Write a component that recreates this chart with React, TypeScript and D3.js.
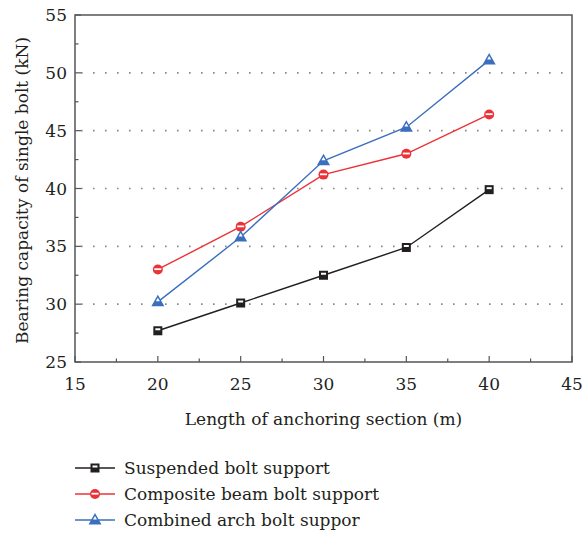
import React from "react";
import * as d3 from "d3";

const lengths = [20, 25, 30, 35, 40];
const suspended = [27.7, 30.1, 32.5, 34.9, 39.9];
const composite = [33.0, 36.7, 41.2, 43.0, 46.4];
const combined = [30.2, 35.8, 42.4, 45.3, 51.1];
const xTicks = [15, 20, 25, 30, 35, 40, 45];
const yTicks = [25, 30, 35, 40, 45, 50, 55];
const seriesNames = ["Suspended bolt support", "Composite beam bolt support", "Combined arch bolt suppor"];

const W = 583, H = 536;
const margin = { top: 15, right: 11, bottom: 174, left: 75 };
const font = "DejaVu Serif";
const axisColor = "#555";

function Marker({ kind, x, y, color }: { kind: string; x: number; y: number; color: string }) {
  if (kind === "square") {
    return (
      <g>
        <rect x={x - 4.5} y={y - 4.5} width={9} height={9} fill={color} />
        <rect x={x - 2.5} y={y - 2.5} width={5} height={2} fill="#fff" />
      </g>
    );
  }
  if (kind === "circle") {
    return (
      <g>
        <circle cx={x} cy={y} r={5} fill={color} />
        <rect x={x - 3.5} y={y - 1.2} width={7} height={1.8} fill="#fff" />
      </g>
    );
  }
  return (
    <g>
      <path d={`M${x},${y - 7}L${x + 6.5},${y + 4.5}L${x - 6.5},${y + 4.5}Z`} fill={color} />
      <path d={`M${x},${y - 4}L${x + 2},${y - 0.6}L${x - 2},${y - 0.6}Z`} fill="#fff" />
    </g>
  );
}

export default function App() {
  const iw = W - margin.left - margin.right;
  const ih = H - margin.top - margin.bottom;
  const x = d3.scaleLinear().domain([15, 45]).range([margin.left, margin.left + iw]);
  const y = d3.scaleLinear().domain([25, 55]).range([margin.top + ih, margin.top]);
  const line = d3.line<[number, number]>().x(d => x(d[0])).y(d => y(d[1]));

  const series = [
    { name: seriesNames[0], values: suspended, color: "#231f20", kind: "square" },
    { name: seriesNames[1], values: composite, color: "#ec3237", kind: "circle" },
    { name: seriesNames[2], values: combined, color: "#3b6fbe", kind: "triangle" },
  ];

  const minorX = d3.range(17.5, 45, 5);
  const minorY = d3.range(27.5, 55, 5);
  const bottom = margin.top + ih;
  const right = margin.left + iw;
  const textStyle = { fontFamily: font };

  return (
    <svg width={W} height={H} style={{ position: "absolute", left: 0, top: 0 }}>
      <rect width={W} height={H} fill="#fff" />
      {/* grid */}
      {yTicks.slice(1, -1).map(t => (
        <line key={t} x1={margin.left + 6} x2={right} y1={y(t)} y2={y(t)}
          stroke="#888" strokeWidth={1.6} strokeDasharray="1.6,10.4" />
      ))}
      {/* ticks */}
      {xTicks.map(t => (
        <line key={"xt" + t} x1={x(t)} x2={x(t)} y1={bottom} y2={bottom - 6} stroke={axisColor} strokeWidth={1.2} />
      ))}
      {minorX.map(t => (
        <line key={"xm" + t} x1={x(t)} x2={x(t)} y1={bottom} y2={bottom - 3.5} stroke={axisColor} strokeWidth={1.2} />
      ))}
      {yTicks.map(t => (
        <line key={"yt" + t} x1={margin.left} x2={margin.left + 6} y1={y(t)} y2={y(t)} stroke={axisColor} strokeWidth={1.2} />
      ))}
      {minorY.map(t => (
        <line key={"ym" + t} x1={margin.left} x2={margin.left + 3.5} y1={y(t)} y2={y(t)} stroke={axisColor} strokeWidth={1.2} />
      ))}
      <rect x={margin.left} y={margin.top} width={iw} height={ih} fill="none" stroke={axisColor} strokeWidth={1.5} />
      {/* tick labels */}
      {xTicks.map(t => (
        <text key={"xl" + t} x={x(t)} y={bottom + 28} textAnchor="middle" style={textStyle} fontSize={17} fill="#231f20">{t}</text>
      ))}
      {yTicks.map(t => (
        <text key={"yl" + t} x={margin.left - 8} y={y(t) + 6} textAnchor="end" style={textStyle} fontSize={17} fill="#231f20">{t}</text>
      ))}
      <text x={(margin.left + right) / 2} y={bottom + 63} textAnchor="middle" style={textStyle} fontSize={17} fill="#231f20">
        Length of anchoring section (m)
      </text>
      <text transform={`translate(28,${(margin.top + bottom) / 2 + 2}) rotate(-90)`} textAnchor="middle" style={textStyle} fontSize={17} fill="#231f20">
        Bearing capacity of single bolt (kN)
      </text>
      {/* series */}
      {series.map(s => (
        <g key={s.name}>
          <path d={line(lengths.map((l, i) => [l, s.values[i]] as [number, number])) || ""} fill="none" stroke={s.color} strokeWidth={1.4} />
          {lengths.map((l, i) => (
            <Marker key={l} kind={s.kind} x={x(l)} y={y(s.values[i])} color={s.color} />
          ))}
        </g>
      ))}
      {/* legend */}
      {series.map((s, i) => {
        const ly = 468 + i * 26;
        return (
          <g key={"lg" + i}>
            <line x1={75} x2={115} y1={ly} y2={ly} stroke={s.color} strokeWidth={1.4} />
            <Marker kind={s.kind} x={95} y={ly} color={s.color} />
            <text x={124} y={ly + 6} style={textStyle} fontSize={17} fill="#231f20">{s.name}</text>
          </g>
        );
      })}
    </svg>
  );
}
